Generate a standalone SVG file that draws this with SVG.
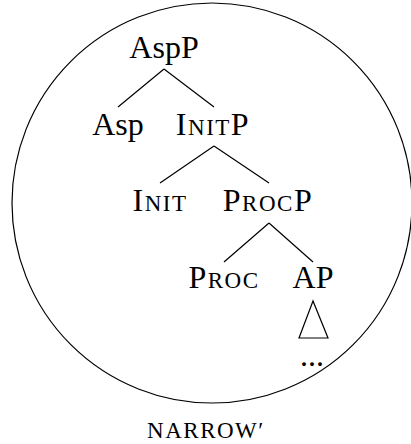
<svg xmlns="http://www.w3.org/2000/svg" width="411" height="444" viewBox="0 0 411 444">
<style>
.t{font-family:"Liberation Serif","DejaVu Serif",serif;font-size:32px;fill:#000;text-anchor:middle}
.sc{font-size:23px}
.e{stroke:#000;stroke-width:1.2;fill:none}
</style>
<rect width="411" height="444" fill="#fff"/>
<circle cx="212" cy="203" r="200" class="e"/>
<g id="edges">
<path class="e" d="M164 69L118 107M164 69L214 107"/>
<path class="e" d="M214 146L160 183M214 146L269 183"/>
<path class="e" d="M269 223L224 262M269 223L313 262"/>
<polygon class="e" points="313,301 299,338 328,338"/>
</g>
<g id="n-aspp"><text class="t" x="164" y="58">AspP</text></g>
<g id="n-asp"><text class="t" x="118" y="135">Asp</text></g>
<g id="n-initp"><text class="t" x="213" y="135" letter-spacing="1.5">I<tspan class="sc">NIT</tspan>P</text></g>
<g id="n-init"><text class="t" x="160" y="211" letter-spacing="1.5">I<tspan class="sc">NIT</tspan></text></g>
<g id="n-procp"><text class="t" x="268" y="211" letter-spacing="1.5">P<tspan class="sc">ROC</tspan>P</text></g>
<g id="n-proc"><text class="t" x="224" y="288" letter-spacing="1.5">P<tspan class="sc">ROC</tspan></text></g>
<g id="n-ap"><text class="t" x="313" y="288">AP</text></g>
<g id="n-dots"><text class="t" x="312" y="366">...</text></g>
<g id="n-label"><text class="t" x="206" y="438"><tspan class="sc" letter-spacing="1.5">NARROW′</tspan></text></g>
</svg>
